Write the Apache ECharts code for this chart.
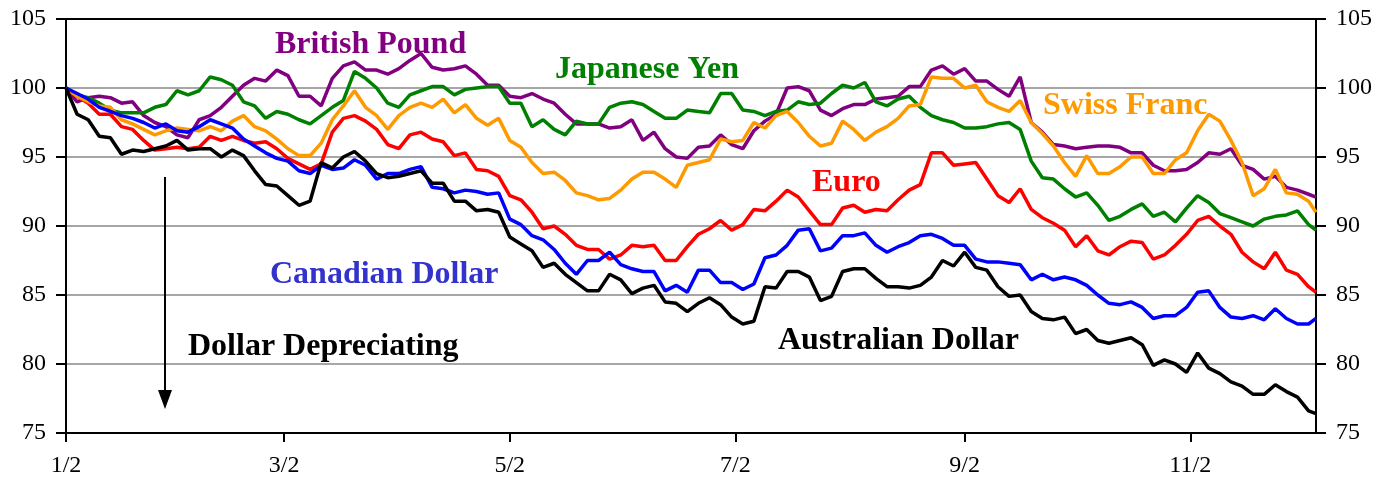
<!DOCTYPE html>
<html>
<head>
<meta charset="utf-8">
<script src="https://cdn.jsdelivr.net/npm/echarts@6/dist/echarts.min.js"></script>
<style>
html,body{margin:0;padding:0;background:#fff;}
#chart{width:1390px;height:489px;}
</style>
</head>
<body>
<div id="chart"></div>
<script>
// Days since Jan 2 at which each value was read
const days = [0,3,6,9,12,15,18,21,24,27,30,33,36,39,42,45,48,51,54,57,60,63,66,69,72,75,78,81,84,87,90,93,96,99,102,105,108,111,114,117,120,123,126,129,132,135,138,141,144,147,150,153,156,159,162,165,168,171,174,177,180,183,186,189,192,195,198,201,204,207,210,213,216,219,222,225,228,231,234,237,240,243,246,249,252,255,258,261,264,267,270,273,276,279,282,285,288,291,294,297,300,303,306,309,312,315,318,321,324,327,330,333,336,338];

// Tick labels on the date axis
const tickDays = [0,59,120,181,243,304];
const tickLabels = ['1/2','3/2','5/2','7/2','9/2','11/2'];

const britishPound = [100.0,99.0,99.3,99.4,99.3,98.9,99.0,98.0,97.5,97.2,96.6,96.4,97.7,98.0,98.6,99.4,100.2,100.7,100.5,101.3,
100.9,99.4,99.4,98.7,100.7,101.6,101.9,101.3,101.3,101.0,101.4,102.0,102.5,101.5,101.3,101.4,101.6,101.0,100.2,
100.2,99.4,99.3,99.6,99.2,98.9,98.1,97.4,97.4,97.4,97.1,97.2,97.7,96.2,96.8,95.6,95.0,94.9,95.7,
95.8,96.6,95.9,95.6,96.9,97.6,98.1,100.0,100.1,99.8,98.4,98.0,98.5,98.8,98.8,99.2,99.3,99.4,100.1,
100.1,101.3,101.6,101.0,101.4,100.5,100.5,99.9,99.4,100.8,97.5,96.8,95.9,95.8,95.6,95.7,95.8,95.8,95.7,
95.3,95.3,94.4,94.0,94.0,94.1,94.6,95.3,95.2,95.6,94.4,94.1,93.4,93.6,92.8,92.6,92.3,92.1];

const japaneseYen = [100.0,99.5,99.3,98.9,98.4,98.2,98.2,98.2,98.6,98.8,99.8,99.5,99.8,100.8,100.6,100.2,99.0,98.7,97.8,98.3,
98.1,97.7,97.4,98.0,98.6,99.1,101.2,100.7,100.0,98.9,98.6,99.5,99.8,100.1,100.1,99.5,99.9,100.0,100.1,
100.1,98.9,98.9,97.2,97.7,97.0,96.6,97.6,97.4,97.4,98.6,98.9,99.0,98.8,98.3,97.8,97.8,98.4,98.3,
98.2,99.6,99.6,98.4,98.3,98.0,98.3,98.4,99.0,98.8,98.9,99.6,100.2,100.0,100.4,99.0,98.7,99.2,99.4,
98.6,98.0,97.7,97.5,97.1,97.1,97.2,97.4,97.5,97.0,94.7,93.5,93.4,92.7,92.1,92.4,91.5,90.4,90.7,
91.2,91.6,90.7,91.0,90.3,91.3,92.2,91.7,90.9,90.6,90.3,90.0,90.5,90.7,90.8,91.1,90.1,89.7];

const swissFranc = [100.0,99.4,99.0,98.7,98.6,97.7,97.4,97.0,96.6,96.9,97.1,97.0,96.9,97.2,96.9,97.6,98.0,97.2,96.9,96.3,
95.6,95.1,95.1,96.0,97.7,98.7,99.8,98.6,98.0,97.0,98.0,98.6,98.9,98.6,99.2,98.2,98.8,97.8,97.3,
97.8,96.2,95.7,94.6,93.8,93.9,93.3,92.4,92.2,91.9,92.0,92.6,93.4,93.9,93.9,93.4,92.8,94.4,94.6,
94.8,96.3,96.1,96.2,97.5,97.1,98.0,98.3,97.5,96.5,95.8,96.0,97.6,97.0,96.2,96.8,97.2,97.8,98.7,
98.8,100.8,100.7,100.7,100.0,100.2,99.0,98.6,98.3,99.1,97.5,96.7,95.8,94.6,93.6,95.1,93.8,93.8,94.3,
95.0,95.0,93.8,93.8,94.8,95.3,96.9,98.1,97.6,96.2,94.6,92.2,92.7,94.1,92.4,92.3,91.8,91.0];

const euro = [100.0,99.4,98.9,98.1,98.1,97.2,97.0,96.2,95.5,95.6,95.7,95.6,95.7,96.5,96.2,96.5,96.2,96.0,96.1,95.6,
94.9,94.5,94.1,94.5,96.8,97.8,98.0,97.6,97.0,95.9,95.6,96.6,96.8,96.3,96.1,95.1,95.3,94.1,94.0,
93.6,92.2,91.9,91.0,89.8,90.0,89.4,88.6,88.3,88.3,87.6,87.9,88.6,88.5,88.6,87.5,87.5,88.5,89.4,
89.8,90.4,89.7,90.1,91.2,91.1,91.8,92.6,92.1,91.1,90.1,90.1,91.3,91.5,91.0,91.2,91.1,91.9,92.6,
93.0,95.3,95.3,94.4,94.5,94.6,93.4,92.2,91.7,92.7,91.2,90.6,90.2,89.7,88.5,89.3,88.2,87.9,88.5,
88.9,88.8,87.6,87.9,88.6,89.4,90.4,90.7,90.0,89.4,88.1,87.4,86.9,88.1,86.8,86.5,85.6,85.2];

const canadianDollar = [100.0,99.6,99.2,98.6,98.3,98.0,97.8,97.5,97.1,97.4,96.9,96.8,97.2,97.7,97.4,97.1,96.3,95.8,95.3,94.9,
94.7,94.0,93.8,94.4,94.1,94.2,94.8,94.4,93.4,93.8,93.8,94.1,94.3,92.8,92.7,92.4,92.6,92.5,92.3,
92.4,90.5,90.1,89.3,89.0,88.3,87.3,86.5,87.5,87.5,88.1,87.2,86.9,86.7,86.7,85.3,85.7,85.2,86.8,
86.8,85.9,85.9,85.4,85.8,87.7,87.9,88.6,89.7,89.8,88.2,88.4,89.3,89.3,89.5,88.6,88.1,88.5,88.8,
89.3,89.4,89.1,88.6,88.6,87.6,87.4,87.4,87.3,87.2,86.1,86.5,86.1,86.3,86.1,85.7,85.0,84.4,84.3,
84.5,84.1,83.3,83.5,83.5,84.1,85.2,85.3,84.1,83.4,83.3,83.5,83.2,84.0,83.3,82.9,82.9,83.3];

const australianDollar = [100.0,98.1,97.7,96.5,96.4,95.2,95.5,95.4,95.6,95.8,96.2,95.5,95.6,95.6,95.0,95.5,95.1,94.0,93.0,92.9,
92.2,91.5,91.8,94.6,94.2,95.0,95.4,94.7,93.8,93.5,93.6,93.8,94.0,93.1,93.1,91.8,91.8,91.1,91.2,
91.0,89.2,88.7,88.2,87.0,87.3,86.5,85.9,85.3,85.3,86.5,86.1,85.1,85.5,85.7,84.5,84.4,83.8,84.4,
84.8,84.3,83.4,82.9,83.1,85.6,85.5,86.7,86.7,86.3,84.6,84.9,86.7,86.9,86.9,86.2,85.6,85.6,85.5,
85.7,86.3,87.5,87.1,88.1,87.0,86.8,85.6,84.9,85.0,83.8,83.3,83.2,83.4,82.2,82.5,81.7,81.5,81.7,
81.9,81.4,79.9,80.3,80.0,79.4,80.8,79.7,79.3,78.7,78.4,77.8,77.8,78.5,78.0,77.6,76.6,76.4];

const FONT = "'Liberation Serif', 'Times New Roman', serif";

const chart = echarts.init(document.getElementById('chart'), null, {renderer: 'canvas'});

function mk(name, vals, color) {
  return {
    name: name,
    type: 'line',
    data: days.map((d, i) => [d, vals[i]]),
    showSymbol: false,
    symbol: 'none',
    lineStyle: {color: color, width: 3.5},
    itemStyle: {color: color},
    animation: false,
    z: 3
  };
}

function yAx(pos, grid) {
  return {
    type: 'value', position: pos, min: 75, max: 105, interval: 5,
    axisLine: {show: true, onZero: false, lineStyle: {color: '#000', width: 2}},
    axisTick: {show: true, length: 10, lineStyle: {color: '#000', width: 2}},
    axisLabel: {color: '#000', fontFamily: FONT, fontSize: 24, margin: 20},
    splitLine: grid ? {show: true, showMinLine: false, showMaxLine: false,
      lineStyle: {color: '#a6a6a6', width: 2}} : {show: false}
  };
}

function txt(x, y, s, color) {
  return {type: 'text', left: x, top: y, z: 10,
    style: {text: s, fill: color, font: "bold 32px " + FONT}};
}

chart.setOption({
  backgroundColor: '#fff',
  animation: false,
  grid: {left: 66, right: 74, top: 19, bottom: 56, show: true,
    borderColor: '#000', borderWidth: 2, backgroundColor: 'transparent', containLabel: false},
  xAxis: {
    type: 'value', min: 0, max: 338,
    axisLine: {show: true, onZero: false, lineStyle: {color: '#000', width: 2}},
    axisTick: {show: true, customValues: tickDays, length: 9, lineStyle: {color: '#000', width: 2}},
    axisLabel: {customValues: tickDays, color: '#000', fontFamily: FONT, fontSize: 24, margin: 21,
      formatter: v => { const i = tickDays.indexOf(v); return i >= 0 ? tickLabels[i] : ''; }},
    splitLine: {show: false}
  },
  yAxis: [yAx('left', true), yAx('right', false)],
  series: [
    mk('British Pound', britishPound, '#800080'),
    mk('Japanese Yen', japaneseYen, '#008000'),
    mk('Euro', euro, '#FF0000'),
    mk('Swiss Franc', swissFranc, '#FF9900'),
    mk('Canadian Dollar', canadianDollar, '#0000FF'),
    mk('Australian Dollar', australianDollar, '#000000')
  ],
  graphic: [
    txt(275, 29, 'British Pound', '#800080'),
    txt(555, 54, 'Japanese Yen', '#008000'),
    txt(1043, 90, 'Swiss Franc', '#FF9900'),
    txt(812, 167, 'Euro', '#FF0000'),
    txt(270, 259, 'Canadian Dollar', '#3333CC'),
    txt(188, 331, 'Dollar Depreciating', '#000000'),
    txt(778, 325, 'Australian Dollar', '#000000'),
    {type: 'line', z: 10, shape: {x1: 165, y1: 177, x2: 165, y2: 395}, style: {stroke: '#000', lineWidth: 2}},
    {type: 'polygon', z: 10, shape: {points: [[158, 390], [172, 390], [165, 409]]}, style: {fill: '#000'}}
  ]
});
</script>
</body>
</html>
